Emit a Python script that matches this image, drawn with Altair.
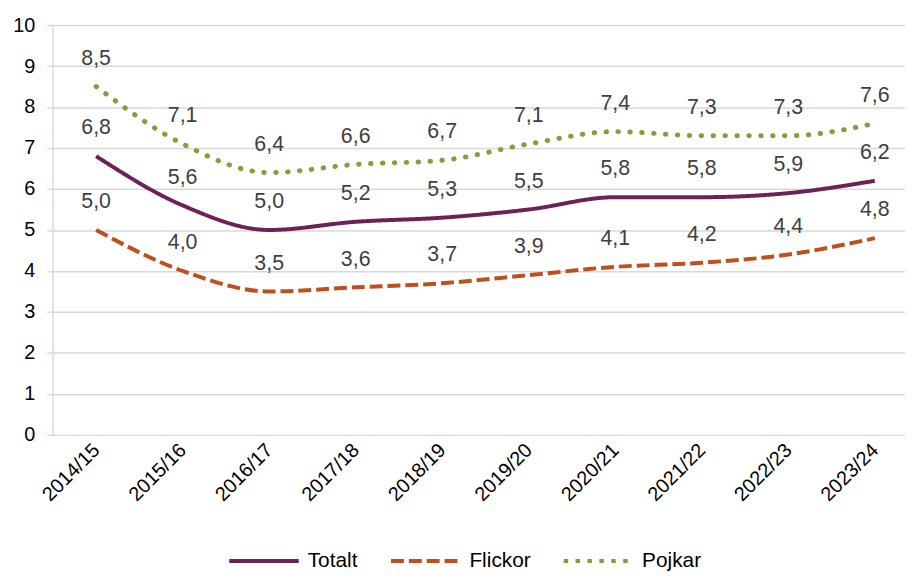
import altair as alt
import pandas as pd

years = ["2014/15", "2015/16", "2016/17", "2017/18", "2018/19",
         "2019/20", "2020/21", "2021/22", "2022/23", "2023/24"]
totalt = [6.8, 5.6, 5.0, 5.2, 5.3, 5.5, 5.8, 5.8, 5.9, 6.2]
flickor = [5.0, 4.0, 3.5, 3.6, 3.7, 3.9, 4.1, 4.2, 4.4, 4.8]
pojkar = [8.5, 7.1, 6.4, 6.6, 6.7, 7.1, 7.4, 7.3, 7.3, 7.6]

series = ["Totalt", "Flickor", "Pojkar"]
colors = ["#6E2157", "#C04F1E", "#7BA33A"]
dashes = [[1, 0], [13, 5], [4.5, 7.5]]

rows = []
for name, vals in zip(series, [totalt, flickor, pojkar]):
    for y, v in zip(years, vals):
        rows.append({"År": y, "Grupp": name, "Värde": v,
                     "Etikett": f"{v:.1f}".replace(".", ",")})
df = pd.DataFrame(rows)

x = alt.X("År:N", sort=years, title=None,
          scale=alt.Scale(type="point", padding=0.426, align=0.59),
          axis=alt.Axis(labelAngle=-45, labelFontSize=20, labelColor="#000000",
                        labelFont="Liberation Sans", ticks=False, domain=False,
                        grid=False, labelPadding=12, labelAlign="right",
                        labelBaseline="middle"))
y = alt.Y("Värde:Q", title=None,
          scale=alt.Scale(domain=[0, 10], nice=False),
          axis=alt.Axis(values=list(range(0, 11)), labelFontSize=20,
                        labelColor="#000000", labelFont="Liberation Sans",
                        gridColor="#D9D9D9", gridWidth=1.5, tickColor="#D9D9D9",
                        tickSize=6, tickWidth=1.5, domainColor="#D9D9D9",
                        domainWidth=1.5, labelPadding=12))

color = alt.Color("Grupp:N", sort=series,
                  scale=alt.Scale(domain=series, range=colors),
                  legend=alt.Legend(title=None, orient="none", direction="horizontal",
                                    legendX=176, legendY=503,
                                    symbolType="stroke", symbolSize=4900,
                                    symbolStrokeWidth=4, labelFontSize=21,
                                    labelFont="Liberation Sans", labelColor="#000000",
                                    columnPadding=25, labelOffset=7))
dash = alt.StrokeDash("Grupp:N", sort=series,
                      scale=alt.Scale(domain=series, range=dashes), legend=None)

lines = alt.Chart(df).transform_filter(
    alt.datum.Grupp != "Pojkar"
).mark_line(interpolate="monotone", strokeWidth=4, strokeCap="butt").encode(
    x=x, y=y, color=color, strokeDash=dash
)

dots = alt.Chart(df).transform_filter(
    alt.datum.Grupp == "Pojkar"
).mark_line(interpolate="monotone", strokeWidth=5, strokeCap="round",
            strokeDash=[0.5, 11.5]).encode(
    x=alt.X("År:N", sort=years), y="Värde:Q", color=alt.Color("Grupp:N", sort=series)
)

labels = alt.Chart(df).mark_text(dy=-28, fontSize=21.5, font="Liberation Sans",
                                 color="#404040", baseline="middle").encode(
    x=alt.X("År:N", sort=years), y="Värde:Q", text="Etikett:N"
)

chart = (lines + dots + labels).properties(
    width=859, height=413,
    autosize=alt.AutoSizeParams(type="none"),
    padding={"left": 45, "top": 15, "right": 0, "bottom": 138},
).configure_view(stroke=None)

chart.save("out.html", embed_options={"renderer": "svg", "actions": False})
